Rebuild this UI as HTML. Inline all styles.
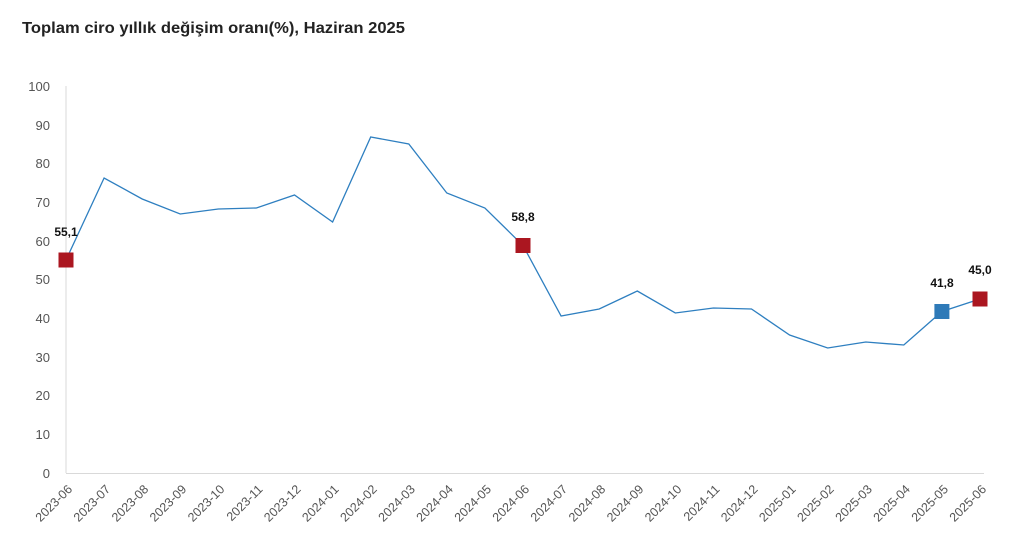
<!DOCTYPE html>
<html><head><meta charset="utf-8"><style>html,body{margin:0;padding:0;background:#fff;}svg{display:block}</style></head>
<body>
<svg width="1020" height="551" xmlns="http://www.w3.org/2000/svg" font-family="'Liberation Sans', 'DejaVu Sans', sans-serif">
<text x="22" y="33" font-size="16" font-weight="bold" fill="#222" textLength="383" lengthAdjust="spacingAndGlyphs">Toplam ciro yıllık değişim oranı(%), Haziran 2025</text>
<line x1="66" y1="86" x2="66" y2="473" stroke="#d9d9d9" stroke-width="1"/>
<line x1="66" y1="473.5" x2="984" y2="473.5" stroke="#d9d9d9" stroke-width="1"/>
<g font-size="13" fill="#555" text-anchor="end">
<text x="50" y="478">0</text><text x="50" y="439">10</text><text x="50" y="400">20</text><text x="50" y="362">30</text><text x="50" y="323">40</text><text x="50" y="284">50</text><text x="50" y="246">60</text><text x="50" y="207">70</text><text x="50" y="168">80</text><text x="50" y="130">90</text><text x="50" y="91">100</text>
</g>
<polyline fill="none" stroke="#2e7fc0" stroke-width="1.3" points="66,260 104.1,178 142.2,199 180.2,214 218.3,209 256.4,208 294.5,195 332.6,222 370.7,137 408.8,144 446.8,193 484.9,208 523,245.5 561.1,316 599.2,309 637.3,291 675.3,313 713.4,308 751.5,309 789.6,335 827.7,348 865.8,342 903.8,345 941.9,311.5 980,299"/>
<rect x="58.5" y="252.5" width="15" height="15" fill="#ab1620"/>
<rect x="515.5" y="238" width="15" height="15" fill="#ab1620"/>
<rect x="934.4" y="304" width="15" height="15" fill="#2e7ab8"/>
<rect x="972.5" y="291.5" width="15" height="15" fill="#ab1620"/>
<g font-size="12" font-weight="bold" fill="#111" text-anchor="middle">
<text x="66" y="236">55,1</text>
<text x="523" y="221">58,8</text>
<text x="942" y="287">41,8</text>
<text x="980" y="274">45,0</text>
</g>
<g font-size="12.5" fill="#555" text-anchor="end">
<text transform="translate(73,490) rotate(-45)">2023-06</text>
<text transform="translate(111.1,490) rotate(-45)">2023-07</text>
<text transform="translate(149.2,490) rotate(-45)">2023-08</text>
<text transform="translate(187.2,490) rotate(-45)">2023-09</text>
<text transform="translate(225.3,490) rotate(-45)">2023-10</text>
<text transform="translate(263.4,490) rotate(-45)">2023-11</text>
<text transform="translate(301.5,490) rotate(-45)">2023-12</text>
<text transform="translate(339.6,490) rotate(-45)">2024-01</text>
<text transform="translate(377.7,490) rotate(-45)">2024-02</text>
<text transform="translate(415.8,490) rotate(-45)">2024-03</text>
<text transform="translate(453.8,490) rotate(-45)">2024-04</text>
<text transform="translate(491.9,490) rotate(-45)">2024-05</text>
<text transform="translate(530,490) rotate(-45)">2024-06</text>
<text transform="translate(568.1,490) rotate(-45)">2024-07</text>
<text transform="translate(606.2,490) rotate(-45)">2024-08</text>
<text transform="translate(644.3,490) rotate(-45)">2024-09</text>
<text transform="translate(682.3,490) rotate(-45)">2024-10</text>
<text transform="translate(720.4,490) rotate(-45)">2024-11</text>
<text transform="translate(758.5,490) rotate(-45)">2024-12</text>
<text transform="translate(796.6,490) rotate(-45)">2025-01</text>
<text transform="translate(834.7,490) rotate(-45)">2025-02</text>
<text transform="translate(872.8,490) rotate(-45)">2025-03</text>
<text transform="translate(910.8,490) rotate(-45)">2025-04</text>
<text transform="translate(948.9,490) rotate(-45)">2025-05</text>
<text transform="translate(987,490) rotate(-45)">2025-06</text>
</g>
</svg>
</body></html>
